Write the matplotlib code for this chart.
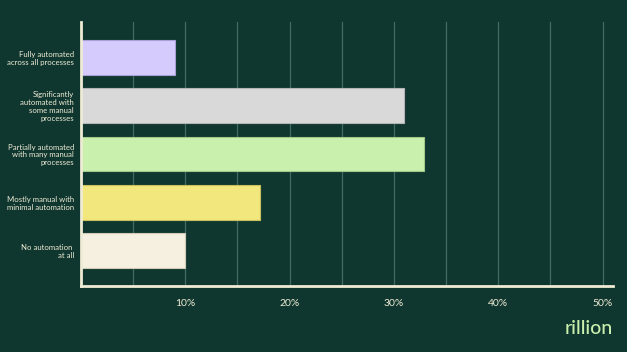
import matplotlib.pyplot as plt

categories = [
    "Fully automated\nacross all processes",
    "Significantly\nautomated with\nsome manual\nprocesses",
    "Partially automated\nwith many manual\nprocesses",
    "Mostly manual with\nminimal automation",
    "No automation \nat all",
]
values = [9.0, 31.0, 32.9, 17.2, 10.0]
colors = ["#d5ccfd", "#d9d9d9", "#c9f0ad", "#f1e77c", "#f5f0e0"]
edges = ["#a99fd6", "#b5b5b5", "#9fc88a", "#c9bf5c", "#cfc9b6"]
ticks = [10, 20, 30, 40, 50]
tick_labels = ["10%", "20%", "30%", "40%", "50%"]

bg = "#10372f"
cream = "#efecd6"

fig = plt.figure(figsize=(6.27, 3.52), dpi=100, facecolor=bg)
ax = fig.add_axes([81 / 627, 66 / 352, 532 / 627, 264 / 352], facecolor=bg)

for x in range(5, 55, 5):
    ax.axvline(x, color="#416d60", lw=0.9, zorder=0)

ypos = list(range(len(categories)))
ax.barh(ypos, values, height=0.725, color=colors, edgecolor=edges, linewidth=0.8, zorder=2)

ax.set_xlim(0, 51)
ax.set_ylim(4.74, -0.74)

ax.set_yticks(ypos)
ax.set_yticklabels(categories, fontsize=5.6, color=cream, family="Lato", linespacing=1.15)
ax.set_xticks(ticks)
ax.set_xticklabels(tick_labels, fontsize=7.5, color=cream, family="Lato")
ax.tick_params(axis="both", length=0)
ax.tick_params(axis="x", pad=9)
ax.tick_params(axis="y", pad=5)

for s in ["top", "right"]:
    ax.spines[s].set_visible(False)
for s in ["left", "bottom"]:
    ax.spines[s].set_color(cream)
    ax.spines[s].set_linewidth(2)

fig.text(0.977, 0.042, "rillion", color="#c9f0ad", fontsize=14, family="Lato",
         weight="medium", ha="right", va="bottom")

fig.savefig("out.png", dpi=100, facecolor=bg)
